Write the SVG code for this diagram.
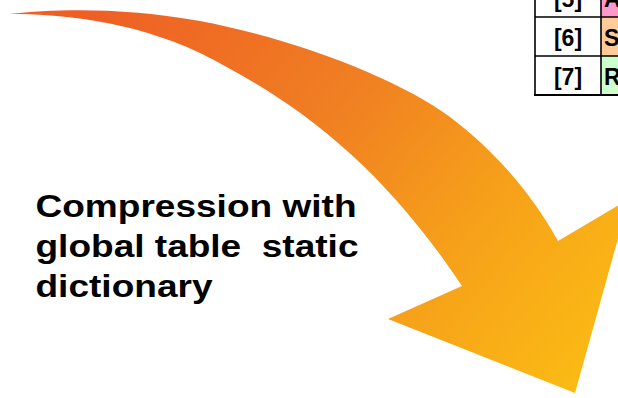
<svg xmlns="http://www.w3.org/2000/svg" width="618" height="398" viewBox="0 0 618 398">
<style>
.lbl{font-family:"Liberation Sans",Arial,sans-serif;font-weight:bold;font-size:32px;fill:#000}
.cell{font-family:"Liberation Sans",Arial,sans-serif;font-weight:bold;font-size:23px;fill:#000}
.grid{stroke:#000;stroke-width:1.6;fill:none}
</style>
<defs>
<linearGradient id="ag" gradientUnits="userSpaceOnUse" x1="100" y1="0" x2="570" y2="390">
<stop offset="0" stop-color="#EE5F25"/>
<stop offset="0.4" stop-color="#F07E22"/>
<stop offset="0.7" stop-color="#F6A01A"/>
<stop offset="1" stop-color="#FBBA14"/>
</linearGradient>
</defs>
<rect width="618" height="398" fill="#fff"/>
<g id="arrow">
<path fill="url(#ag)" d="M9,14 C60,8 130,8 200,21 C300,40 400,80 450,117 C490,147 530,190 558,241 L629,199 L575,393 L388,319 L462,286 C382,166 300,103 200,53 C130,20 60,14 9,14 Z"/>
</g>
<g id="label">
<text class="lbl" x="35.5" y="217" textLength="321" lengthAdjust="spacingAndGlyphs">Compression with</text>
<text class="lbl" x="35.5" y="257" textLength="323" lengthAdjust="spacingAndGlyphs" xml:space="preserve">global table  static</text>
<text class="lbl" x="35.5" y="297" textLength="177" lengthAdjust="spacingAndGlyphs">dictionary</text>
</g>
<g id="table">
<rect x="601" y="0" width="20" height="17" fill="#FF99CC"/>
<rect x="601" y="17" width="20" height="39" fill="#FFCC99"/>
<rect x="601" y="56" width="20" height="39" fill="#CCFFCC"/>
<path class="grid" d="M535,0 V95 M601,0 V95 M535,17 H620 M535,56 H620"/>
<path stroke="#000" stroke-width="2" d="M534,95 H620"/>
<text class="cell" x="568" y="7" text-anchor="middle">[5]</text>
<text class="cell" x="568" y="46" text-anchor="middle">[6]</text>
<text class="cell" x="568" y="85" text-anchor="middle">[7]</text>
<text class="cell" x="604" y="7">A</text>
<text class="cell" x="604" y="46">S</text>
<text class="cell" x="604" y="85">R</text>
</g>
</svg>
